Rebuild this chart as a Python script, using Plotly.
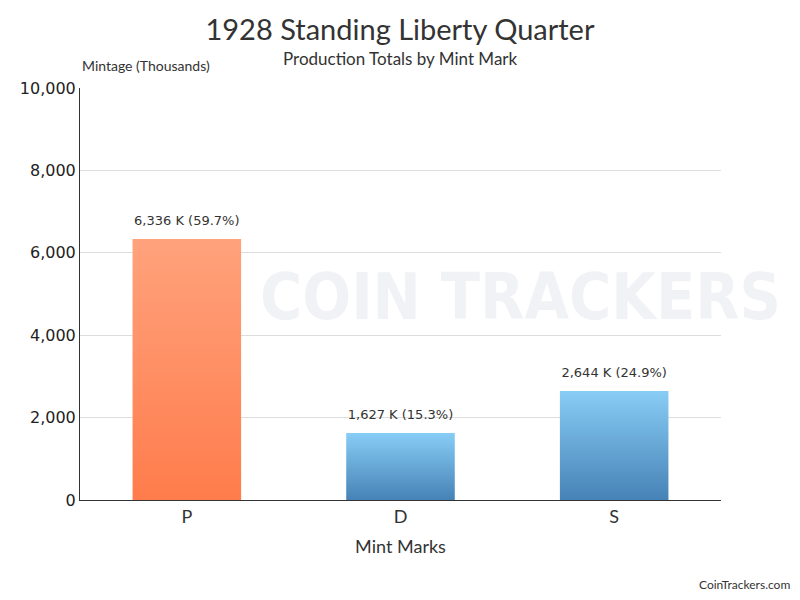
import plotly.graph_objects as go

# mintage in thousands
mints = ["P", "D", "S"]
mintage = [6336, 1627, 2644]
bar_top = ["#FFA27C", "#88CDF6", "#88CDF6"]
bar_bottom = ["#FF7C4C", "#4682B6", "#4682B6"]

total = sum(mintage)
labels = ["{:,} K ({:.1f}%)".format(v, v * 100 / total) for v in mintage]

cal = "Lato, Calibri, sans-serif"
ver = "DejaVu Sans, Verdana, sans-serif"

fig = go.Figure()

half = 0.254
for i, (m, v) in enumerate(zip(mints, mintage)):
    fig.add_trace(go.Scatter(
        x=[i - half, i - half, i + half, i + half, i - half],
        y=[0, v, v, 0, 0],
        mode="lines", fill="toself", line=dict(width=0),
        fillgradient=dict(type="vertical",
                          colorscale=[[0, bar_bottom[i]], [1, bar_top[i]]]),
        hoverinfo="skip", showlegend=False))

fig.add_trace(go.Scatter(
    x=list(range(len(mints))), y=mintage, mode="markers+text", text=labels,
    marker=dict(size=16, opacity=0),
    textposition="top center", textfont=dict(family=ver, size=13, color="#333"),
    hoverinfo="skip", showlegend=False, cliponaxis=False))

# page body adds 8px, so the figure is 792x592
fig.update_layout(
    width=792, height=592, plot_bgcolor="white", paper_bgcolor="white",
    margin=dict(l=72, r=79, t=80, b=100, autoexpand=False),
    title=dict(text="1928 Standing Liberty Quarter", x=392 / 792,
               xanchor="center", y=1 - 22 / 592, yanchor="middle",
               font=dict(family=cal, size=29, color="#333")),
    showlegend=False,
)
fig.update_xaxes(range=[-0.5, 2.5], tickvals=list(range(len(mints))), ticktext=mints,
                 showline=True, linecolor="#333", linewidth=1, showgrid=False,
                 zeroline=False, ticks="", automargin=False,
                 tickfont=dict(family=cal, size=18, color="#333"),
                 title=dict(text="Mint Marks", font=dict(family=cal, size=18, color="#333"),
                            standoff=14))
fig.update_yaxes(range=[0, 10000], dtick=2000, tickformat=",", showline=True,
                 linecolor="#333", linewidth=1, gridcolor="#DDDDDD", zeroline=False,
                 automargin=False,
                 tickfont=dict(family=ver, size=16, color="#222"))

fig.add_annotation(text="Production Totals by Mint Mark", x=0.5, y=1.0 + 30 / 412,
                   xref="paper", yref="paper", yanchor="middle", showarrow=False,
                   font=dict(family=cal, size=17, color="#333"))
fig.add_annotation(text="Mintage (Thousands)", x=0, y=1.0, xref="paper", yref="paper",
                   xanchor="left", yanchor="bottom", yshift=12, showarrow=False,
                   font=dict(family=cal, size=14, color="#333"))
fig.add_annotation(text="CoinTrackers.com", x=1, y=0, xref="paper", yref="paper",
                   xanchor="right", yanchor="bottom", xshift=71, yshift=-94, showarrow=False,
                   font=dict(family=cal, size=12, color="#333"))
# faint watermark
fig.add_annotation(text="<b>COIN TRACKERS</b>", x=(520 - 80) / 641, y=(500 - 297) / 412,
                   xref="paper", yref="paper", showarrow=False, xanchor="center",
                   yanchor="middle",
                   font=dict(family="DejaVu Sans Condensed, DejaVu Sans", size=64,
                             color="rgba(190,198,210,0.22)"))

fig.write_html("out.html")
